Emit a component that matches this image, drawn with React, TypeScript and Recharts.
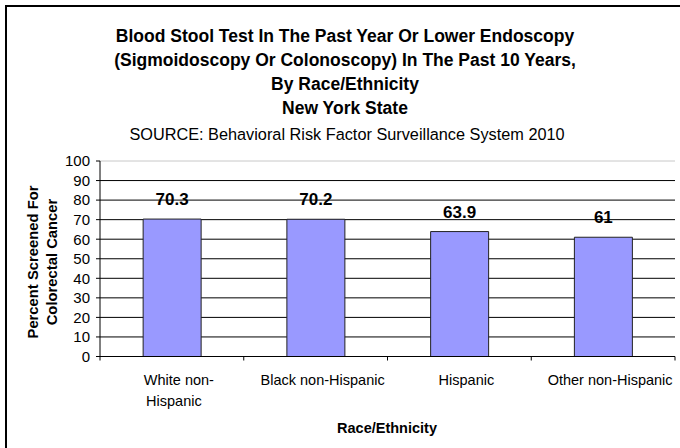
import React from 'react';
import {
  BarChart,
  Bar,
  XAxis,
  YAxis,
  CartesianGrid,
  LabelList,
} from 'recharts';

// Colorectal cancer screening, NYS BRFSS 2010
const groups = ['White non-Hispanic', 'Black non-Hispanic', 'Hispanic', 'Other non-Hispanic'];
const groupLines = [['White non-', 'Hispanic'], ['Black non-Hispanic'], ['Hispanic'], ['Other non-Hispanic']];
const screened = [70.3, 70.2, 63.9, 61];
const yTicks = [0, 10, 20, 30, 40, 50, 60, 70, 80, 90, 100];

const titleLines = [
  'Blood Stool Test In The Past Year Or Lower Endoscopy',
  '(Sigmoidoscopy Or Colonoscopy) In The Past 10 Years,',
  'By Race/Ethnicity',
  'New York State',
];
const sourceLine = 'SOURCE: Behavioral Risk Factor Surveillance System 2010';

const W = 680;
const H = 448;
const FONT = '"Liberation Sans", Arial, Helvetica, sans-serif';

// plot box
const PLOT_LEFT = 100;
const PLOT_RIGHT = 675;
const PLOT_TOP = 161;
const X_AXIS_H = 60;
const BOTTOM_PAD = 31.5;
const PLOT_BOTTOM = H - BOTTOM_PAD - X_AXIS_H;
const BAND = (PLOT_RIGHT - PLOT_LEFT) / groups.length;

const data = groups.map((g, i) => ({ group: g, value: screened[i] }));

// top grid line (at 100) is a pale grey, the others black
function GridLine(props: any) {
  const { x1, x2, y1, y2 } = props;
  const isTop = Math.abs(y1 - PLOT_TOP) < 1;
  return <line x1={x1} x2={x2} y1={y1} y2={y2} stroke={isTop ? '#c8c8c8' : '#000'} strokeWidth={1} />;
}

function GroupTick(props: any) {
  const { x, payload, index } = props;
  const lines = groupLines[index] ?? [String(payload.value)];
  const left = x - BAND / 2;
  return (
    <g>
      <line x1={left} x2={left} y1={PLOT_BOTTOM} y2={PLOT_BOTTOM + 4} stroke="#000" />
      {index === groups.length - 1 && (
        <line x1={x + BAND / 2} x2={x + BAND / 2} y1={PLOT_BOTTOM} y2={PLOT_BOTTOM + 4} stroke="#000" />
      )}
      {lines.map((ln: string, i: number) => (
        <text
          key={i}
          x={x + (i === 0 ? 7 : 2)}
          y={PLOT_BOTTOM + 28 + i * 21.5}
          textAnchor="middle"
          fontSize={14.5}
          fill="#000"
        >
          {ln}
        </text>
      ))}
    </g>
  );
}

export default function App() {
  return (
    <div
      style={{
        position: 'absolute',
        left: 0,
        top: 0,
        width: W,
        height: H,
        background: '#fff',
        fontFamily: FONT,
      }}
    >
      <BarChart
        width={W}
        height={H}
        data={data}
        margin={{ top: PLOT_TOP, right: W - PLOT_RIGHT, left: 0, bottom: BOTTOM_PAD }}
        barCategoryGap="30%"
      >
        <CartesianGrid vertical={false} horizontal={(p: any) => <GridLine key={p.key} {...p} />} />
        <XAxis
          dataKey="group"
          height={X_AXIS_H}
          interval={0}
          tickLine={false}
          axisLine={{ stroke: '#000' }}
          tick={<GroupTick />}
        />
        <YAxis
          width={PLOT_LEFT}
          domain={[0, 100]}
          ticks={yTicks}
          interval={0}
          tickSize={4}
          tickMargin={6}
          axisLine={{ stroke: '#000' }}
          tickLine={{ stroke: '#000' }}
          tick={{ fontSize: 15, fill: '#000' }}
        />
        <Bar dataKey="value" fill="#9999ff" stroke="#222" strokeWidth={1} isAnimationActive={false}>
          <LabelList
            dataKey="value"
            position="top"
            offset={14}
            style={{ fontSize: 17, fontWeight: 'bold', fill: '#000' }}
          />
        </Bar>
      </BarChart>

      <svg
        width={W}
        height={H}
        style={{ position: 'absolute', left: 0, top: 0, pointerEvents: 'none' }}
        fontFamily={FONT}
      >
        <rect x={6} y={6} width={W + 20} height={H + 20} fill="none" stroke="#000" strokeWidth={2} />
        <text textAnchor="middle" fontSize={17.5} fontWeight="bold" fill="#000">
          {titleLines.map((t, i) => (
            <tspan key={i} x={345} y={41.5 + i * 24.2}>
              {t}
            </tspan>
          ))}
        </text>
        <text x={347} y={140} textAnchor="middle" fontSize={16.3} fill="#000">
          {sourceLine}
        </text>
        <text transform="translate(0, 262) rotate(-90)" textAnchor="middle" fontSize={14.8} fontWeight="bold" fill="#000">
          <tspan x={0} y={37.5}>Percent Screened For</tspan>
          <tspan x={0} y={56.5}>Colorectal Cancer</tspan>
        </text>
        <text x={387} y={432.5} textAnchor="middle" fontSize={14.5} fontWeight="bold" fill="#000">
          Race/Ethnicity
        </text>
      </svg>
    </div>
  );
}
